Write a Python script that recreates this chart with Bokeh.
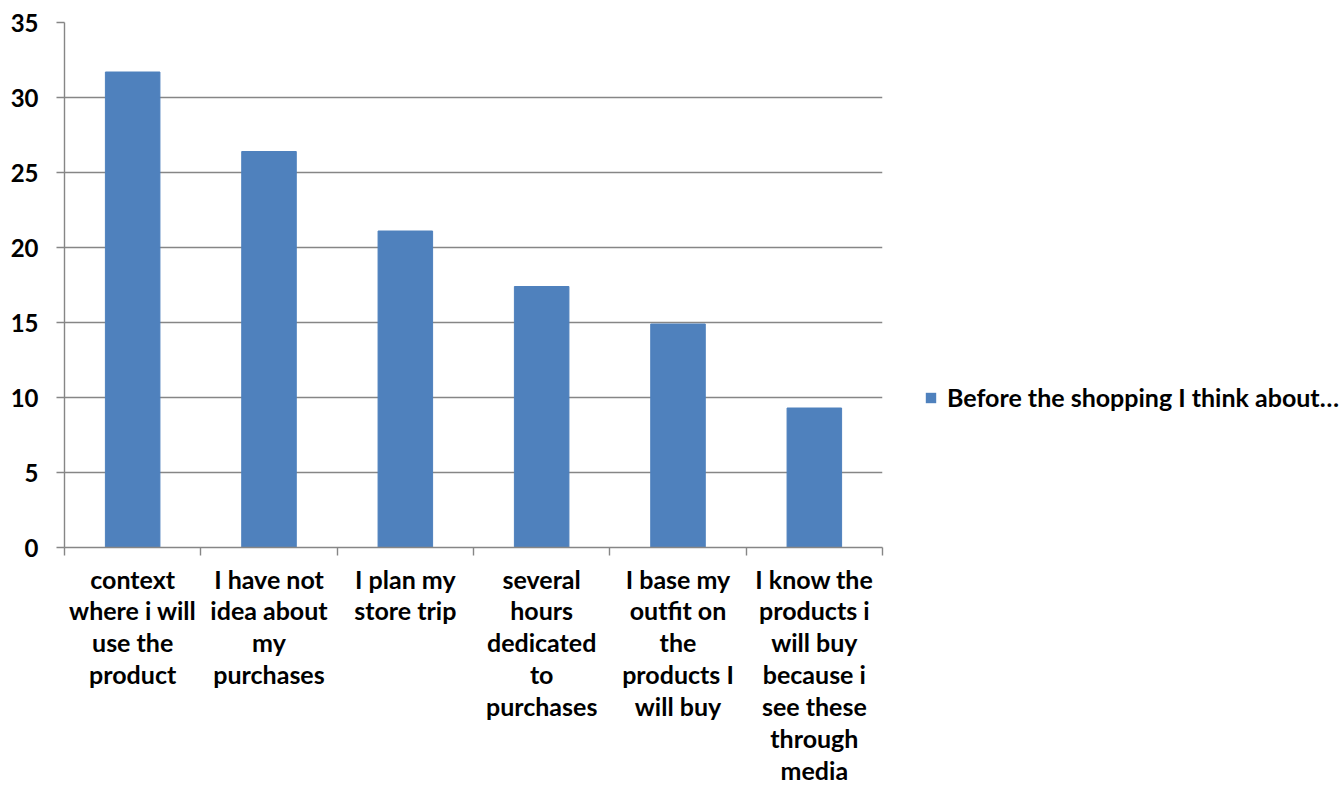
from bokeh.plotting import figure
from bokeh.layouts import row
from bokeh.models import Range1d, FixedTicker, Legend, LegendItem, ColumnDataSource
from bokeh.embed import file_html
from bokeh.resources import INLINE

categories = [
    "context\nwhere i will\nuse the\nproduct",
    "I have not\nidea about\nmy\npurchases",
    "I plan my\nstore trip",
    "several\nhours\ndedicated\nto\npurchases",
    "I base my\noutfit on\nthe\nproducts I\nwill buy",
    "I know the\nproducts i\nwill buy\nbecause i\nsee these\nthrough\nmedia",
]
values = [31.7, 26.4, 21.1, 17.4, 14.9, 9.3]
series_name = "Before the shopping I think about…"
y_ticks = [0, 5, 10, 15, 20, 25, 30, 35]

FONT = "Lato"
GRAY = "#868686"
BLUE = "#4F81BD"
FS = "25px"

centers = [i + 0.5 for i in range(len(categories))]
bounds = [i for i in range(len(categories) + 1)]
src = ColumnDataSource(dict(x=centers, top=values))

p = figure(width=900, height=789, output_backend="svg", toolbar_location=None,
           x_range=Range1d(0, len(categories)), y_range=Range1d(0, 35),
           min_border_left=64, min_border_right=18, min_border_top=22, min_border_bottom=242)
p.outline_line_color = None
p.background_fill_color = "white"
p.border_fill_color = "white"

r = p.vbar(x="x", top="top", width=0.4, source=src, fill_color=BLUE, line_color=BLUE)

p.xgrid.visible = False
p.ygrid.ticker = FixedTicker(ticks=y_ticks)
p.ygrid.grid_line_color = GRAY
p.ygrid.grid_line_width = 1.4

# y axis
p.yaxis.ticker = FixedTicker(ticks=y_ticks)
p.yaxis.axis_line_color = GRAY
p.yaxis.axis_line_width = 1.4
p.yaxis.major_tick_line_color = GRAY
p.yaxis.major_tick_line_width = 1.4
p.yaxis.major_tick_in = 0
p.yaxis.major_tick_out = 8
p.yaxis.minor_tick_line_color = None
p.yaxis.major_label_standoff = 18
p.yaxis.major_label_text_font = FONT
p.yaxis.major_label_text_font_style = "bold"
p.yaxis.major_label_text_font_size = "24px"
p.yaxis.major_label_text_color = "black"

# x axis
p.xaxis.ticker = FixedTicker(ticks=centers, minor_ticks=bounds)
p.xaxis.major_label_overrides = {c: lab for c, lab in zip(centers, categories)}
p.xaxis.axis_line_color = GRAY
p.xaxis.axis_line_width = 1.4
p.xaxis.major_tick_line_color = None
p.xaxis.major_tick_in = 0
p.xaxis.major_tick_out = 8
p.xaxis.minor_tick_line_color = GRAY
p.xaxis.minor_tick_line_width = 1.4
p.xaxis.minor_tick_in = 0
p.xaxis.minor_tick_out = 8
p.xaxis.major_label_standoff = 8
p.xaxis.major_label_text_font = FONT
p.xaxis.major_label_text_font_style = "bold"
p.xaxis.major_label_text_font_size = FS
p.xaxis.major_label_text_color = "black"
p.xaxis.major_label_text_line_height = 1.065
p.xaxis.major_label_orientation = "horizontal"

# legend panel (same series, zero-width and out of view so only its legend swatch shows)
lg = figure(width=441, height=789, output_backend="svg", toolbar_location=None,
            x_range=Range1d(0, len(categories)), y_range=Range1d(-2, -1),
            x_axis_location=None, y_axis_location=None, min_border=0)
lg.outline_line_color = None
lg.xgrid.visible = False
lg.ygrid.visible = False
lr = lg.vbar(x="x", top="top", width=0, source=src, fill_color=BLUE, line_color=None)

legend = Legend(items=[LegendItem(label=series_name, renderers=[lr])],
                location=(24, 135), padding=0, margin=0, spacing=0,
                glyph_width=13, glyph_height=13, label_standoff=10,
                border_line_color=None, background_fill_alpha=0,
                label_text_font=FONT, label_text_font_style="bold",
                label_text_font_size=FS, label_text_color="black")
lg.add_layout(legend)

layout = row(p, lg)
open("out.html", "w").write(file_html(layout, INLINE))
